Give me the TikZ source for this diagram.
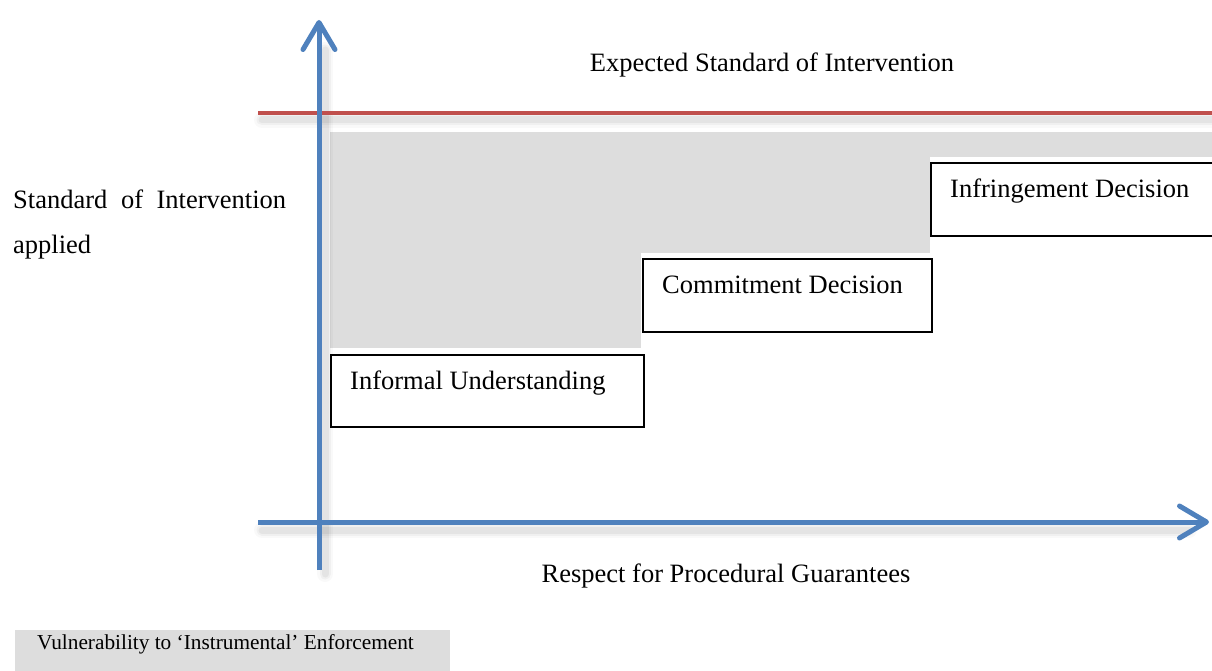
\documentclass[tikz,border=0pt]{standalone}
\usepackage{fontspec}
\setmainfont{Liberation Serif}
\usetikzlibrary{arrows.meta}
\definecolor{axisblue}{RGB}{79,129,189}
\definecolor{limitred}{RGB}{192,80,77}
\definecolor{panelgray}{RGB}{221,221,221}
\tikzset{
  axis/.style={draw=axisblue, line width=5pt,
    -{Straight Barb[length=27pt, width=32pt, round]}},
  plainaxis/.style={draw=axisblue, line width=5pt},
  softshadow/.style={draw=black, line cap=round},
  panel/.style={fill=panelgray, draw=none},
  stagebox/.style={draw=black, line width=1.8pt, fill=white},
  bigtext/.style={font=\fontsize{26.5}{32}\selectfont, inner sep=0pt},
  smalltext/.style={font=\fontsize{21.3}{26}\selectfont, inner sep=0pt},
}
\begin{document}
\begin{tikzpicture}[x=1pt, y=-1pt]
\useasboundingbox (0,0) rectangle (1212,671);

% key points of the axes and the reference line
\coordinate (yfoot) at (319,570);
\coordinate (ytip)  at (319,20);
\coordinate (xfoot) at (258,522);
\coordinate (xtip)  at (1209,522);
\coordinate (redL)  at (258,113);
\coordinate (redR)  at (1212,113);

% grey panels showing the gap to the expected standard
\fill[panelgray] (330,132) rectangle (641,348);
\fill[panelgray] (641,132) rectangle (930,253);
\fill[panelgray] (930,132) rectangle (1212,157);

% soft shadows under the lines
\foreach \w/\o in {16/0.025, 11/0.035, 7/0.05}{
  \draw[softshadow, line width=\w pt, opacity=\o] ([shift={(4,7)}]redL) -- ([shift={(0,7)}]redR);
  \draw[softshadow, line width=\w pt, opacity=\o] ([shift={(4,8)}]xfoot) -- ([shift={(-20,8)}]xtip);
  \draw[softshadow, line width=\w pt, opacity=\o] ([shift={(6,4)}]yfoot) -- ([shift={(6,30)}]ytip);
}

% expected standard line
\draw[limitred, line width=4pt] (redL) -- (redR);

% stage boxes
\node[stagebox, minimum width=313pt, minimum height=72pt, anchor=north west] (informal) at (330,354) {};
\node[stagebox, minimum width=289pt, minimum height=73pt, anchor=north west] (commit) at (642,258) {};
\node[stagebox, minimum width=300pt, minimum height=73pt, anchor=north west] (infringe) at (930,162) {};

\node[bigtext, anchor=base west] (informalT) at (350,389) {Informal Understanding};
\node[bigtext, anchor=base west] (commitT) at (662,293) {Commitment Decision};
\node[bigtext, anchor=base west] (infringeT) at (950,197) {Infringement Decision};

% axes
\draw[axis] (yfoot) -- (ytip);
\draw[axis] (xfoot) -- (xtip);

% labels
\node[bigtext, anchor=base] (expected) at (772,72) {Expected Standard of Intervention};
\node[bigtext, anchor=base west] (ylabA) at (13,208) {\makebox[273pt][s]{Standard of Intervention}};
\node[bigtext, anchor=base west] (ylabB) at (13,253) {applied};
\node[bigtext, anchor=base] (xlab) at (726,582) {Respect for Procedural Guarantees};

% legend entry
\fill[panelgray] (15,630) rectangle (450,671);
\node[smalltext, anchor=base west] (legend) at (37,649) {Vulnerability to ‘Instrumental’ Enforcement};
\end{tikzpicture}
\end{document}
